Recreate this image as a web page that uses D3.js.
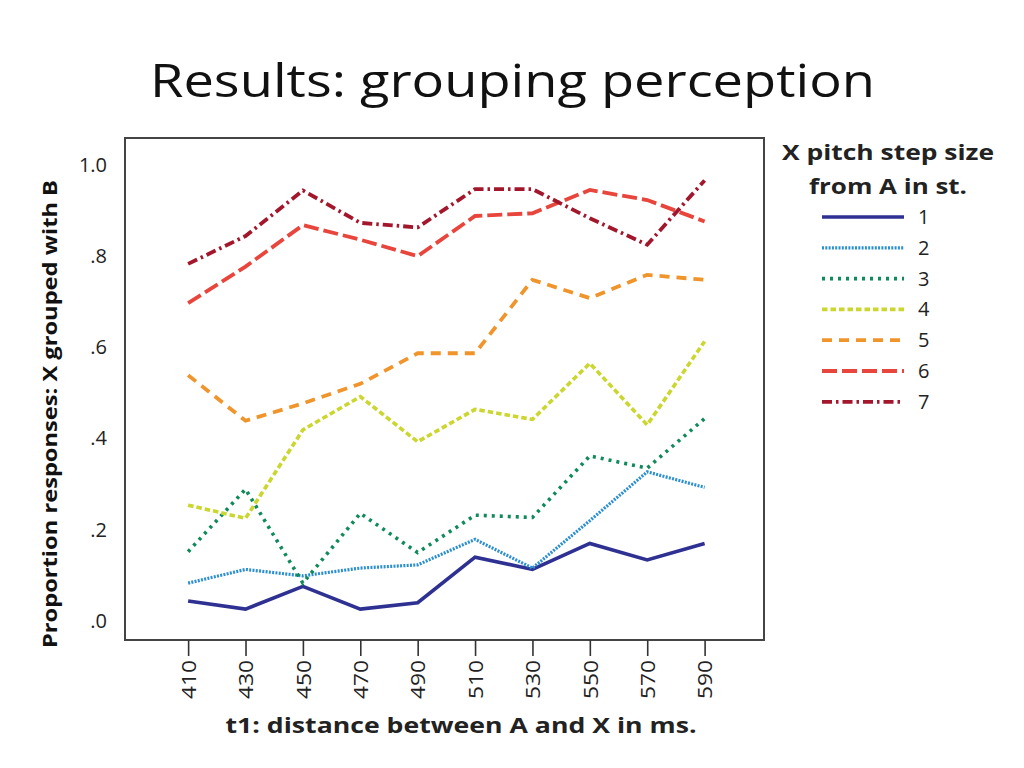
<!DOCTYPE html>
<html><head><meta charset="utf-8">
<script src="https://cdn.jsdelivr.net/npm/d3@7"></script>
<style>body{margin:0;background:#fff;} svg{display:block;}</style>
</head><body>
<svg id="c" width="1024" height="768"></svg>
<script>
const xValues = [410, 430, 450, 470, 490, 510, 530, 550, 570, 590];
const yTicks = [0, 0.2, 0.4, 0.6, 0.8, 1.0];
const yTickLabels = [".0", ".2", ".4", ".6", ".8", "1.0"];
const seriesNames = ["1", "2", "3", "4", "5", "6", "7"];
const s1 = [0.044, 0.026, 0.076, 0.026, 0.040, 0.140, 0.113, 0.170, 0.134, 0.170];
const s2 = [0.083, 0.113, 0.099, 0.116, 0.123, 0.179, 0.116, 0.220, 0.327, 0.293];
const s3 = [0.152, 0.289, 0.083, 0.236, 0.150, 0.232, 0.227, 0.362, 0.335, 0.444];
const s4 = [0.254, 0.225, 0.419, 0.492, 0.393, 0.464, 0.442, 0.565, 0.430, 0.613];
const s5 = [0.539, 0.439, 0.477, 0.520, 0.587, 0.587, 0.748, 0.708, 0.759, 0.748];
const s6 = [0.697, 0.777, 0.868, 0.836, 0.800, 0.888, 0.894, 0.945, 0.923, 0.876];
const s7 = [0.783, 0.844, 0.944, 0.873, 0.863, 0.947, 0.947, 0.883, 0.825, 0.966];
const seriesValues = [s1, s2, s3, s4, s5, s6, s7];

const colors = ["#2e3192", "#2b8fd0", "#0f8a5a", "#cbd62e", "#f0952c", "#e8453c", "#a3172c"];
const dashes = [null, "2,1.3", "3,5", "5.5,3", "10,7", "15,5", "10,4,2.5,4"];
const widths = [3.6, 3.2, 3.6, 3.6, 3.8, 3.8, 3.8];

const svg = d3.select("#c");
const frame = {l:125, t:138, r:764, b:640};
const x = d3.scaleLinear().domain([388, 610.7]).range([frame.l, frame.r]);
const y = d3.scaleLinear().domain([-0.0417, 1.059]).range([frame.b, frame.t]);

// Title
svg.append("text").attr("x", 150).attr("y", 97)
  .attr("font-family", "Open Sans, sans-serif").attr("font-size", 46)
  .attr("fill", "#111").attr("textLength", 725).attr("lengthAdjust", "spacingAndGlyphs")
  .text("Results: grouping perception");

// Frame
svg.append("rect").attr("x", frame.l).attr("y", frame.t)
  .attr("width", frame.r - frame.l).attr("height", frame.b - frame.t)
  .attr("fill", "none").attr("stroke", "#444").attr("stroke-width", 2);

// X axis ticks
const xAxis = d3.axisBottom(x).tickValues(xValues).tickSize(16).tickSizeOuter(0).tickFormat(d3.format("d"));
const gx = svg.append("g").attr("transform", `translate(0,${frame.b})`).call(xAxis);
gx.select(".domain").remove();
gx.selectAll(".tick line").attr("stroke", "#333").attr("stroke-width", 1.6);
gx.selectAll(".tick text")
  .attr("font-family", "Open Sans, sans-serif").attr("font-size", 20).attr("fill", "#222")
  .attr("transform", "rotate(-90)")
  .attr("x", -20).attr("y", 0).attr("dy", "0.36em")
  .attr("text-anchor", "end")
  .attr("textLength", 39).attr("lengthAdjust", "spacingAndGlyphs");

// Y axis labels (no tick marks)
const yAxis = d3.axisLeft(y).tickValues(yTicks).tickSize(0)
  .tickFormat((d, i) => yTickLabels[i]);
const gy = svg.append("g").attr("transform", `translate(${frame.l},0)`).call(yAxis);
gy.select(".domain").remove();
gy.selectAll(".tick text")
  .attr("font-family", "Open Sans, sans-serif").attr("font-size", 20).attr("fill", "#222")
  .attr("x", -18);

// Axis titles
svg.append("text").attr("x", 461).attr("y", 733).attr("text-anchor", "middle")
  .attr("font-family", "Open Sans, sans-serif").attr("font-weight", "bold").attr("font-size", 22)
  .attr("fill", "#222").attr("textLength", 471).attr("lengthAdjust", "spacingAndGlyphs")
  .text("t1: distance between A and X in ms.");
svg.append("text").attr("transform", "translate(57,414) rotate(-90)").attr("text-anchor", "middle")
  .attr("font-family", "Open Sans, sans-serif").attr("font-weight", "bold").attr("font-size", 19)
  .attr("fill", "#111").attr("textLength", 468).attr("lengthAdjust", "spacingAndGlyphs")
  .text("Proportion responses: X grouped with B");

// Lines
const line = d3.line().x((d, i) => x(xValues[i])).y(d => y(d));
seriesValues.forEach((vals, k) => {
  svg.append("path").datum(vals).attr("d", line)
    .attr("fill", "none").attr("stroke", colors[k]).attr("stroke-width", widths[k])
    .attr("stroke-dasharray", dashes[k]).attr("stroke-linejoin", "miter");
});

// Legend
const lg = svg.append("g");
lg.append("text").attr("x", 888).attr("y", 160).attr("text-anchor", "middle")
  .attr("font-family", "Open Sans, sans-serif").attr("font-weight", "bold").attr("font-size", 22)
  .attr("fill", "#222").attr("textLength", 212).attr("lengthAdjust", "spacingAndGlyphs")
  .text("X pitch step size");
lg.append("text").attr("x", 888).attr("y", 194).attr("text-anchor", "middle")
  .attr("font-family", "Open Sans, sans-serif").attr("font-weight", "bold").attr("font-size", 22)
  .attr("fill", "#222").attr("textLength", 158).attr("lengthAdjust", "spacingAndGlyphs")
  .text("from A in st.");
seriesNames.forEach((n, k) => {
  const yy = 217 + k * 30.8;
  lg.append("line").attr("x1", 822).attr("x2", 904).attr("y1", yy).attr("y2", yy)
    .attr("stroke", colors[k]).attr("stroke-width", widths[k]).attr("stroke-dasharray", dashes[k]);
  lg.append("text").attr("x", 918).attr("y", yy).attr("dy", "0.35em")
    .attr("font-family", "Open Sans, sans-serif").attr("font-size", 20).attr("fill", "#222")
    .text(n);
});
</script>
</body></html>
